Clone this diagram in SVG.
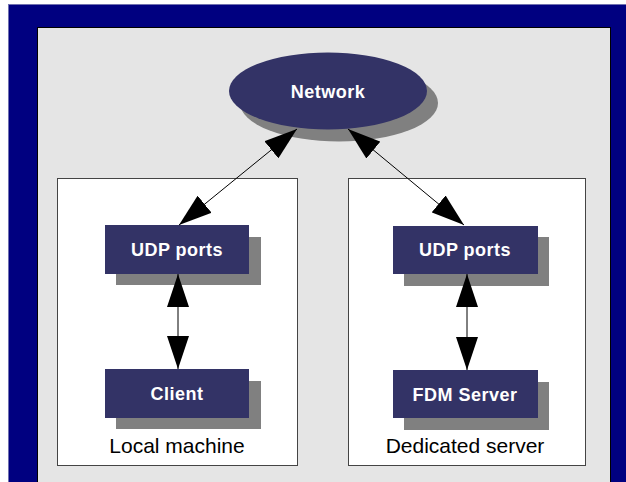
<svg xmlns="http://www.w3.org/2000/svg" width="626" height="482" viewBox="0 0 626 482">
<style>
.node{fill:#333366}
.shadow{fill:#808080}
.ntext{font-family:"Liberation Sans",Arial,sans-serif;font-weight:bold;font-size:18px;fill:#ffffff;text-anchor:middle;letter-spacing:0.5px}
.label{font-family:"Liberation Sans",Arial,sans-serif;font-size:21px;fill:#000000;text-anchor:middle}
.container{fill:#ffffff;stroke:#444444;stroke-width:1}
.conn{stroke:#000000;stroke-width:1;fill:none;marker-start:url(#ah);marker-end:url(#ah)}
</style>
<defs>
<marker id="ah" markerUnits="userSpaceOnUse" markerWidth="33" markerHeight="22" viewBox="0 0 33 22" refX="33" refY="11" orient="auto-start-reverse">
<path d="M0,0 L33,11 L0,22 Z" fill="#000000"/>
</marker>
</defs>
<rect x="0" y="0" width="626" height="482" fill="#ffffff"/>
<rect x="8" y="4" width="618" height="478" fill="#000080"/>
<line x1="8" y1="4.5" x2="626" y2="4.5" stroke="#7070b0" stroke-width="1"/>
<line x1="8.5" y1="4" x2="8.5" y2="482" stroke="#7070b0" stroke-width="1"/>
<rect x="37.5" y="27.5" width="573" height="460" fill="#e5e5e5" stroke="#000000" stroke-width="1"/>

<g id="local-machine">
<rect class="container" x="57.5" y="178.5" width="240" height="287"/>
<text class="label" x="177" y="453">Local machine</text>
</g>
<g id="dedicated-server">
<rect class="container" x="348.5" y="178.5" width="237" height="287"/>
<text class="label" x="465" y="453">Dedicated server</text>
</g>

<g id="network">
<ellipse class="shadow" cx="339" cy="103" rx="99" ry="38.5"/>
<ellipse class="node" cx="328" cy="91" rx="99" ry="38.5"/>
<text class="ntext" x="328" y="98">Network</text>
</g>

<g id="udp-local">
<rect class="shadow" x="116" y="237" width="145" height="48"/>
<rect class="node" x="105" y="225" width="144" height="49"/>
<text class="ntext" x="177" y="256">UDP ports</text>
</g>
<g id="client">
<rect class="shadow" x="116" y="381" width="145" height="48"/>
<rect class="node" x="105" y="369" width="144" height="49"/>
<text class="ntext" x="177" y="400">Client</text>
</g>

<g id="udp-server">
<rect class="shadow" x="404" y="237" width="145" height="49"/>
<rect class="node" x="393" y="226" width="145" height="48"/>
<text class="ntext" x="465" y="256">UDP ports</text>
</g>
<g id="fdm-server">
<rect class="shadow" x="404" y="382" width="145" height="48"/>
<rect class="node" x="393" y="370" width="145" height="48"/>
<text class="ntext" x="465" y="401">FDM Server</text>
</g>

<g id="connectors">
<line class="conn" x1="297" y1="129" x2="179" y2="225"/>
<line class="conn" x1="348" y1="129" x2="464" y2="225"/>
<line class="conn" x1="178" y1="274" x2="178" y2="369"/>
<line class="conn" x1="467" y1="274" x2="467" y2="370"/>
</g>
</svg>
